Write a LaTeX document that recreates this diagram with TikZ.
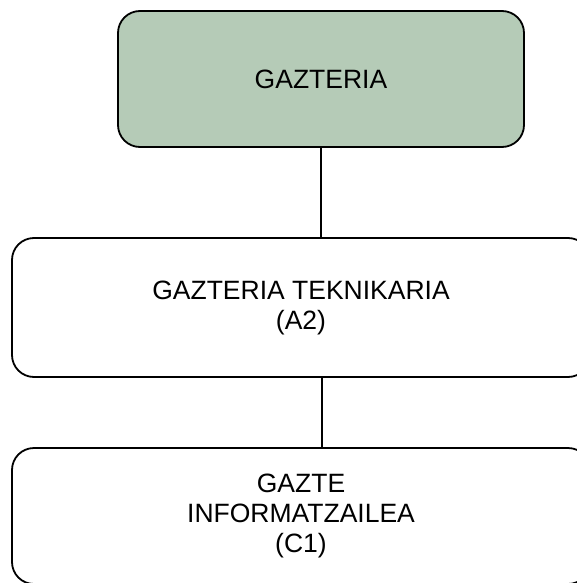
\documentclass[tikz,border=0pt]{standalone}
\usepackage{fontspec}
\setmainfont{Liberation Sans}
\definecolor{headgreen}{RGB}{181,203,183}
\tikzset{
  unitbox/.style={draw=black, line width=1.8pt, rounded corners=22pt, inner sep=0pt,
    align=center, font=\fontsize{26.5}{30}\selectfont},
  link/.style={line width=1.8pt}
}

\begin{document}
\begin{tikzpicture}[x=1pt, y=1pt]
	%%%%% START %%%%%
	
	\clip (0, 0) rectangle (577, -583);
	
	\node[unitbox, fill=headgreen, minimum width=406pt, minimum height=136pt] (gazteria) at (321, -79) {GAZTERIA};
	
	\node[unitbox, minimum width=578pt, minimum height=139pt] (teknikaria) at (301, -307.5) {GAZTERIA TEKNIKARIA\\(A2)};
	
	\node[unitbox, minimum width=578pt, minimum height=136pt] (informatzailea) at (301, -516) {GAZTE\\INFORMATZAILEA\\(C1)};
	
	\draw[link] (gazteria.south) -- (gazteria.south |- teknikaria.north);
	\draw[link] ([xshift=1pt]gazteria.south |- teknikaria.south) -- ([xshift=1pt]gazteria.south |- informatzailea.north);
	
	%%%%% END %%%%%
\end{tikzpicture}
\end{document}
